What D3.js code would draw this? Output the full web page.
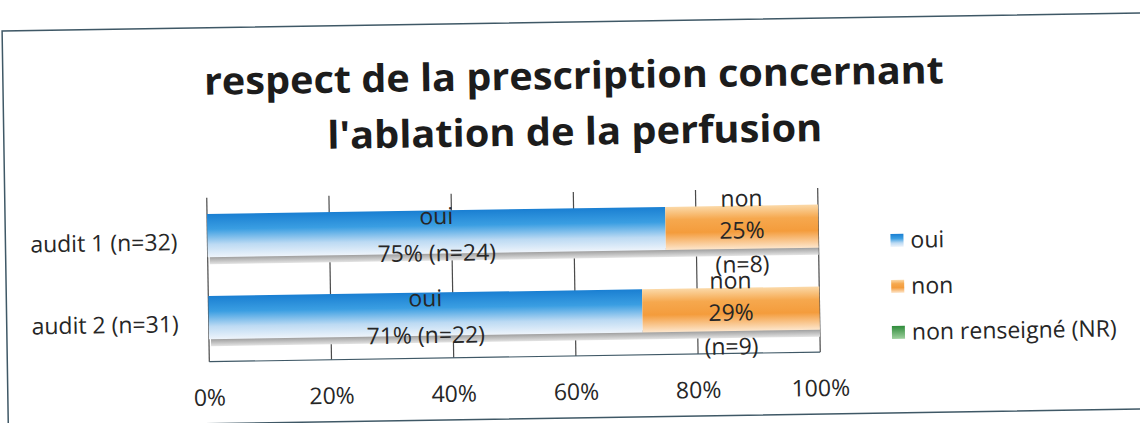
<!DOCTYPE html>
<html>
<head>
<meta charset="utf-8">
<script src="https://cdn.jsdelivr.net/npm/d3@7"></script>
<style>
  body { margin: 0; background: #fff; }
  svg text { font-family: "Open Sans", "Noto Sans", sans-serif; fill: #262626; }
</style>
</head>
<body>
<script>
// audits and shares (%)
const categories = ["audit 1 (n=32)", "audit 2 (n=31)"];
const ouiPct = [75, 71];
const nonPct = [25, 29];
const nrPct = [0, 0];
const ouiN = [24, 22];
const nonN = [8, 9];
const seriesNames = ["oui", "non", "non renseigné (NR)"];
const tickValues = [0, 20, 40, 60, 80, 100];

const width = 1140, height = 423;
const plot = {left: 207, right: 818, top: 192, bottom: 356};
const fs = 23;

const svg = d3.select("body").append("svg")
    .attr("width", width)
    .attr("height", height);

// gradients for the glossy bars
const defs = svg.append("defs");
function vgrad(id, stops) {
    const g = defs.append("linearGradient").attr("id", id)
        .attr("x1", 0).attr("y1", 0).attr("x2", 0).attr("y2", 1);
    stops.forEach(s => g.append("stop").attr("offset", s[0]).attr("stop-color", s[1]));
}
vgrad("gBlue", [[0, "#1a7fd2"], [0.35, "#3a9ee2"], [0.7, "#bcdaf3"], [1, "#eef4fb"]]);
vgrad("gOrange", [[0, "#fbd9a8"], [0.3, "#f6a84e"], [0.6, "#f49c3c"], [1, "#fde6cc"]]);
vgrad("gGreen", [[0, "#2e8b3a"], [1, "#9fd19f"]]);
vgrad("gShadow", [[0, "#8d8d8d"], [1, "#e4e4e4"]]);

// the scan is slightly tilted
const root = svg.append("g").attr("transform", "rotate(-0.9, 570, 211)");

// outer frame
root.append("rect")
    .attr("x", 5).attr("y", 22)
    .attr("width", 1150).attr("height", 396)
    .attr("fill", "none")
    .attr("stroke", "#3f5866")
    .attr("stroke-width", 1.5);

// title
const titleLines = [
    {t: "respect de la prescription concernant", y: 89, len: 740},
    {t: "l'ablation de la perfusion", y: 145, len: 495}
];
root.selectAll("text.title")
    .data(titleLines)
    .enter().append("text")
    .attr("class", "title")
    .attr("x", 576)
    .attr("y", d => d.y)
    .attr("text-anchor", "middle")
    .attr("font-size", 38)
    .attr("font-weight", "bold")
    .attr("textLength", d => d.len)
    .attr("lengthAdjust", "spacingAndGlyphs")
    .style("fill", "#1c1c1c")
    .text(d => d.t);

const x = d3.scaleLinear().domain([0, 100]).range([plot.left, plot.right]);
const y = d3.scaleBand().domain(categories)
    .range([plot.top, plot.bottom])
    .paddingInner(0.4)
    .paddingOuter(0.2);

// grid lines
root.append("g")
    .selectAll("line")
    .data(tickValues)
    .enter().append("line")
    .attr("x1", d => x(d)).attr("x2", d => x(d))
    .attr("y1", plot.top).attr("y2", plot.bottom)
    .attr("stroke", "#4a4a4a")
    .attr("stroke-width", 1.2);

root.append("line")
    .attr("x1", plot.left).attr("x2", plot.right)
    .attr("y1", plot.bottom).attr("y2", plot.bottom)
    .attr("stroke", "#3f5866")
    .attr("stroke-width", 1.2);

// stacked bars
const rows = categories.map((c, i) => ({
    cat: c, i: i,
    segs: [
        {key: "oui", x0: 0, x1: ouiPct[i], fill: "url(#gBlue)"},
        {key: "non", x0: ouiPct[i], x1: ouiPct[i] + nonPct[i], fill: "url(#gOrange)"},
        {key: "nr", x0: ouiPct[i] + nonPct[i], x1: ouiPct[i] + nonPct[i] + nrPct[i], fill: "url(#gGreen)"}
    ]
}));

const bh = y.bandwidth() - 6;
const rowG = root.selectAll("g.row")
    .data(rows)
    .enter().append("g")
    .attr("class", "row");

// shadow strip under each bar
rowG.append("rect")
    .attr("x", x(0) + 2)
    .attr("y", d => y(d.cat) + bh - 2)
    .attr("width", d => x(d.segs[2].x1) - x(0) - 2)
    .attr("height", 9)
    .attr("fill", "url(#gShadow)");

rowG.selectAll("rect.seg")
    .data(d => d.segs.filter(s => s.x1 > s.x0).map(s => Object.assign({cat: d.cat}, s)))
    .enter().append("rect")
    .attr("class", "seg")
    .attr("x", s => x(s.x0))
    .attr("y", s => y(s.cat))
    .attr("width", s => x(s.x1) - x(s.x0))
    .attr("height", bh)
    .attr("fill", s => s.fill);

// labels inside the bars
rows.forEach(r => {
    const cy = y(r.cat) + bh / 2;
    const ouiMid = x(ouiPct[r.i] / 2);
    const nonMid = x(ouiPct[r.i] + nonPct[r.i] / 2);
    const lab = [
        {x: ouiMid, y: cy - 16, t: "oui"},
        {x: ouiMid, y: cy + 21, t: ouiPct[r.i] + "% (n=" + ouiN[r.i] + ")"},
        {x: nonMid, y: cy - 29, t: "non"},
        {x: nonMid, y: cy + 3, t: nonPct[r.i] + "%"},
        {x: nonMid, y: cy + 37, t: "(n=" + nonN[r.i] + ")"}
    ];
    root.append("g").selectAll("text")
        .data(lab)
        .enter().append("text")
        .attr("x", d => d.x)
        .attr("y", d => d.y)
        .attr("dy", "0.35em")
        .attr("text-anchor", "middle")
        .attr("font-size", fs)
        .text(d => d.t);
});

// category labels
root.append("g").selectAll("text")
    .data(categories)
    .enter().append("text")
    .attr("x", 177)
    .attr("y", d => y(d) + bh / 2 + 6)
    .attr("dy", "0.35em")
    .attr("text-anchor", "end")
    .attr("font-size", fs)
    .text(d => d);

// x tick labels
root.append("g").selectAll("text")
    .data(tickValues)
    .enter().append("text")
    .attr("x", d => x(d))
    .attr("y", 392)
    .attr("dy", "0.35em")
    .attr("text-anchor", "middle")
    .attr("font-size", fs)
    .text(d => d + "%");

// legend
const legendFills = ["url(#gBlue)", "url(#gOrange)", "url(#gGreen)"];
const leg = root.append("g").selectAll("g")
    .data(seriesNames)
    .enter().append("g")
    .attr("transform", (d, i) => "translate(890," + (245 + i * 46) + ")");
leg.append("rect")
    .attr("x", 0).attr("y", -6)
    .attr("width", 13).attr("height", 13)
    .attr("fill", (d, i) => legendFills[i]);
leg.append("text")
    .attr("x", 20)
    .attr("y", 0)
    .attr("dy", "0.35em")
    .attr("font-size", fs)
    .text(d => d);
</script>
</body>
</html>
